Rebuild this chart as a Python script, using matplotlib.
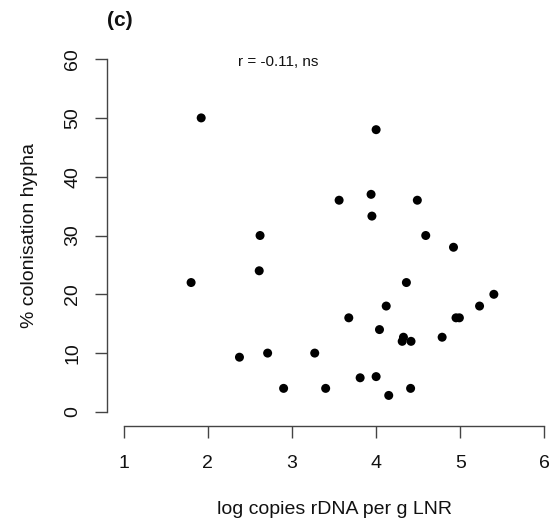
import matplotlib.pyplot as plt

plt.rcParams['font.family'] = ['Liberation Sans', 'DejaVu Sans']

# log copies rDNA per g LNR vs % colonisation hypha
log_copies = [1.80, 1.92, 2.375, 2.61, 2.62, 2.71, 2.90, 3.27, 3.40, 3.56, 3.675,
              3.81, 3.94, 3.95, 4.00, 4.00, 4.04, 4.12, 4.15, 4.31, 4.325, 4.36,
              4.415, 4.41, 4.49, 4.59, 4.785, 4.92, 4.95, 4.99, 5.23, 5.40]
colonisation = [22, 50, 9.3, 24, 30, 10, 4, 10, 4, 36, 16,
                5.8, 37, 33.3, 48, 6, 14, 18, 2.8, 12, 12.7, 22,
                12, 4, 36, 30, 12.7, 28, 16, 16, 18, 20]
xticks = [1, 2, 3, 4, 5, 6]
yticks = [0, 10, 20, 30, 40, 50, 60]

W, H = 551, 526
fig = plt.figure(figsize=(W / 100, H / 100), dpi=100)
ax = fig.add_axes([107 / W, (H - 426) / H, (W - 107) / W, (426 - 45) / H])

ax.scatter(log_copies, colonisation, s=42, color='black', edgecolors='none', zorder=3)

ax.set_xlim(0.8, 0.8 + (W - 107) / 84.1)
ax.set_ylim(-2.4, 62.4)

for s in ['top', 'right']:
    ax.spines[s].set_visible(False)
ax.spines['left'].set_bounds(0, 60)
ax.spines['bottom'].set_bounds(1, 6)
for s in ['left', 'bottom']:
    ax.spines[s].set_color('#444444')
    ax.spines[s].set_linewidth(1.0)

ax.set_xticks(xticks)
ax.set_yticks(yticks)
ax.set_yticklabels([str(v) for v in yticks], rotation=90, va='center')
ax.tick_params(axis='both', direction='out', length=8.6, width=1.0, color='#444444',
               labelsize=14, labelcolor='#111111')
ax.tick_params(axis='x', pad=12)
ax.tick_params(axis='y', pad=10)

fig.text(334 / W, 1 - 510 / H, 'log copies rDNA per g LNR', ha='center', va='center',
         fontsize=14, color='#111111')
fig.text(30 / W, 1 - 235 / H, '% colonisation hypha', ha='center', va='center',
         rotation=90, fontsize=14, color='#111111')
fig.text(107 / W, 1 - 20 / H, '(c)', ha='left', va='center', fontsize=15,
         fontweight='bold', color='#111111')
fig.text(278 / W, 1 - 62 / H, 'r = -0.11, ns', ha='center', va='center',
         fontsize=11, color='#111111')

fig.savefig('out.png', dpi=100)
